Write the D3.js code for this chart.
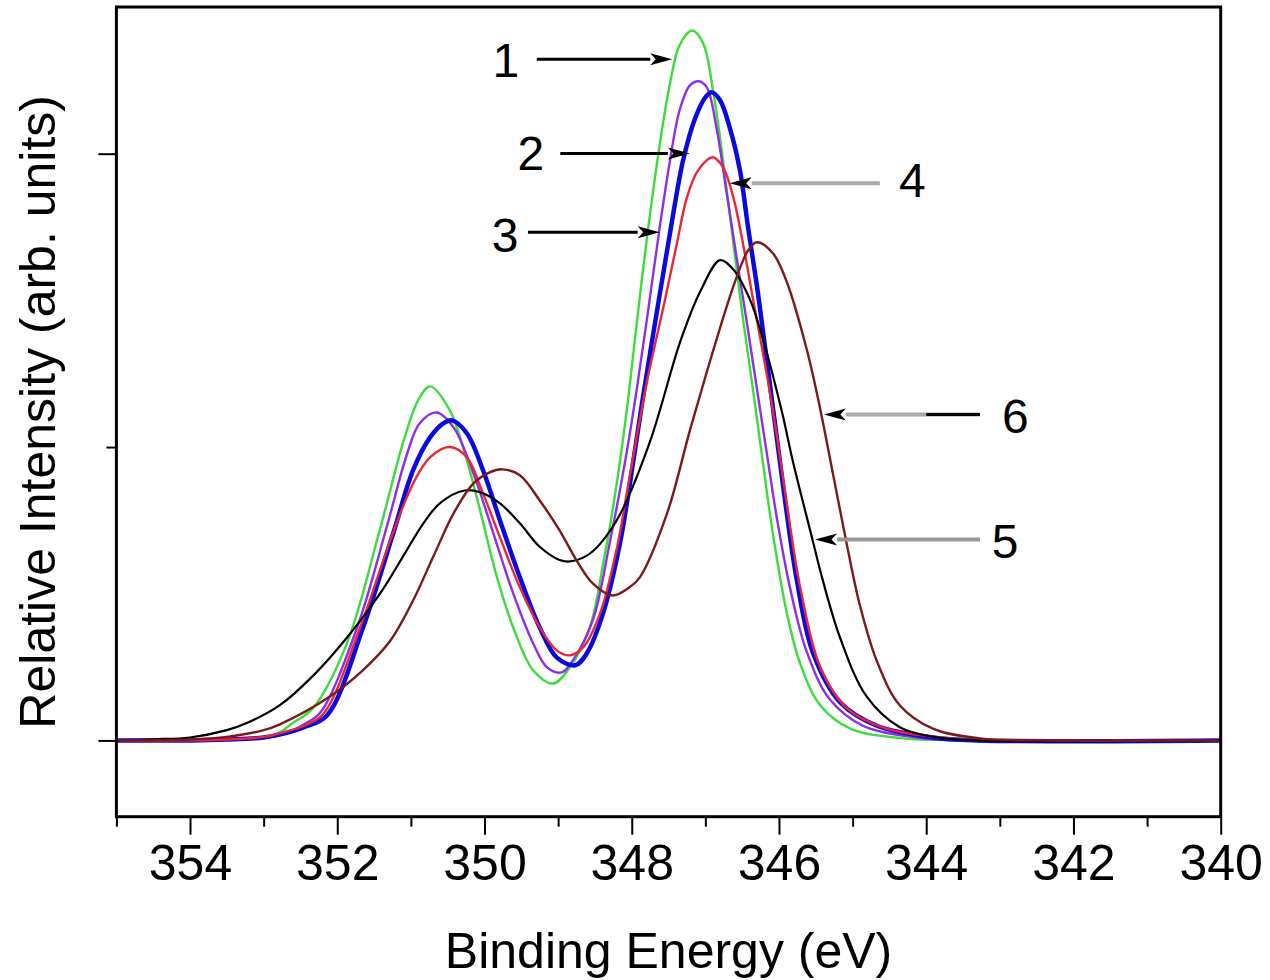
<!DOCTYPE html>
<html>
<head>
<meta charset="utf-8">
<script src="https://cdn.jsdelivr.net/npm/d3@7"></script>
<style>
  body { margin: 0; background: #fff; }
  text { font-family: "Liberation Sans", Arial, sans-serif; fill: #000; }
</style>
</head>
<body>
<svg width="1270" height="980"></svg>
<script>
// spectra: [binding energy (eV), relative intensity]
var curve1 = [[355,0],[354,0],[353.5,0.003],[353,0.008],[352.8,0.025],[352.6,0.06],[352.33,0.11],[351.87,0.33],[351.42,0.72],[351.1,1.02],[350.9,1.16],[350.74,1.207],[350.47,1.125],[350.24,0.955],[350.06,0.784],[349.83,0.556],[349.61,0.385],[349.34,0.239],[349.07,0.194],[348.84,0.249],[348.57,0.385],[348.39,0.6],[348.25,0.8],[348.07,1.12],[347.96,1.36],[347.79,1.72],[347.62,2.03],[347.48,2.24],[347.35,2.37],[347.18,2.42],[347.03,2.376],[346.89,2.206],[346.76,1.977],[346.62,1.695],[346.49,1.44],[346.35,1.19],[346.22,0.95],[346.08,0.7],[345.89,0.43],[345.71,0.26],[345.44,0.12],[345.03,0.04],[344.35,0.008],[343.5,0],[340,0]];
var curve2 = [[355,0],[354,0],[353.5,0.003],[353,0.01],[352.7,0.025],[352.45,0.045],[352.14,0.085],[351.65,0.385],[351.24,0.706],[350.97,0.921],[350.74,1.033],[350.56,1.081],[350.44,1.091],[350.24,1.047],[350.02,0.921],[349.79,0.75],[349.52,0.556],[349.25,0.385],[349.02,0.283],[348.77,0.256],[348.61,0.297],[348.39,0.433],[348.16,0.672],[347.98,0.95],[347.86,1.15],[347.62,1.52],[347.44,1.79],[347.3,1.98],[347.14,2.12],[347.0,2.192],[346.91,2.209],[346.8,2.182],[346.67,2.09],[346.53,1.943],[346.42,1.749],[346.3,1.55],[346.22,1.4],[346.08,1.13],[345.94,0.86],[345.76,0.55],[345.54,0.3],[345.17,0.13],[344.67,0.05],[343.91,0.01],[343.3,0],[340,0]];
var curve3 = [[355,0],[354,0],[353.5,0.003],[353,0.01],[352.7,0.025],[352.45,0.055],[352.23,0.095],[351.73,0.385],[351.33,0.726],[351.05,0.978],[350.88,1.081],[350.65,1.118],[350.42,1.067],[350.15,0.91],[349.88,0.706],[349.61,0.501],[349.34,0.331],[349.15,0.249],[348.95,0.232],[348.8,0.273],[348.53,0.409],[348.3,0.672],[348.07,0.98],[347.93,1.2],[347.78,1.46],[347.62,1.749],[347.48,1.977],[347.35,2.148],[347.21,2.233],[347.09,2.247],[346.98,2.226],[346.85,2.09],[346.71,1.865],[346.57,1.637],[346.44,1.43],[346.3,1.2],[346.16,0.97],[346.03,0.76],[345.85,0.52],[345.62,0.3],[345.31,0.14],[344.86,0.05],[344.13,0.01],[343.5,0],[340,0]];
var curve4 = [[355,0],[354,0],[353.5,0.003],[353,0.012],[352.7,0.03],[352.45,0.05],[352.19,0.09],[351.69,0.385],[351.28,0.682],[350.97,0.876],[350.74,0.965],[350.47,1.0],[350.24,0.965],[350.02,0.842],[349.79,0.692],[349.52,0.522],[349.25,0.385],[349.02,0.307],[348.84,0.29],[348.66,0.317],[348.43,0.433],[348.2,0.658],[348.03,0.897],[347.79,1.227],[347.55,1.5],[347.39,1.69],[347.25,1.851],[347.1,1.943],[346.9,1.988],[346.76,1.954],[346.62,1.851],[346.49,1.695],[346.35,1.5],[346.16,1.24],[346.03,1.04],[345.89,0.8],[345.71,0.52],[345.44,0.25],[345.08,0.11],[344.54,0.04],[343.68,0.007],[343,0],[340,0]];
var curve5 = [[355,0],[354.5,0.004],[354,0.01],[353.5,0.035],[353.22,0.06],[352.78,0.12],[352.33,0.22],[351.87,0.35],[351.42,0.5],[351.1,0.63],[350.83,0.74],[350.6,0.81],[350.27,0.852],[350.06,0.846],[349.79,0.808],[349.52,0.74],[349.25,0.66],[348.98,0.615],[348.84,0.61],[348.61,0.63],[348.43,0.67],[348.16,0.77],[347.75,1.02],[347.34,1.36],[347.07,1.53],[346.8,1.637],[346.62,1.605],[346.39,1.5],[346.22,1.37],[345.96,1.12],[345.81,0.95],[345.54,0.68],[345.42,0.56],[345.17,0.35],[344.81,0.15],[344.36,0.045],[343.9,0.012],[343.3,0],[340,0]];
var curve6 = [[355,0],[354,0.003],[353.5,0.012],[353,0.035],[352.78,0.055],[352.1,0.15],[351.65,0.24],[351.28,0.34],[350.97,0.477],[350.7,0.624],[350.42,0.774],[350.15,0.876],[349.93,0.914],[349.75,0.924],[349.52,0.904],[349.25,0.818],[348.98,0.716],[348.75,0.614],[348.53,0.535],[348.26,0.494],[348.03,0.522],[347.89,0.556],[347.52,0.774],[347.21,1.057],[346.94,1.29],[346.67,1.51],[346.53,1.61],[346.42,1.67],[346.3,1.698],[346.08,1.66],[345.89,1.56],[345.62,1.33],[345.44,1.13],[345.26,0.9],[345.08,0.67],[344.9,0.46],[344.67,0.27],[344.36,0.12],[343.91,0.04],[343.27,0.007],[342.5,0],[340,0]];

var xMajor = [354, 352, 350, 348, 346, 344, 342, 340];
var xMinor = [355, 353, 351, 349, 347, 345, 343, 341];
var yMajor = [0, 2];
var yMinor = [1];

var svg = d3.select("svg"),
    width = +svg.attr("width"),
    height = +svg.attr("height");

var margin = {top: 7, right: 49.3, bottom: 163.3, left: 116.4};

var x = d3.scaleLinear().domain([355, 340]).range([margin.left, width - margin.right]);
var y = d3.scaleLinear().domain([-0.26, 2.5]).range([height - margin.bottom, margin.top]);

// drawing order: green, purple, blue, red, black, maroon
var series = [
  {data: curve1, color: "#3ddc3d", w: 2.4},
  {data: curve3, color: "#8d2fe6", w: 2.4},
  {data: curve2, color: "#0a0adc", w: 4.5},
  {data: curve4, color: "#ec2636", w: 2.4},
  {data: curve5, color: "#000000", w: 2.2},
  {data: curve6, color: "#7a1a1a", w: 2.4}
];

var line = d3.line()
    .x(function(d) { return x(d[0]); })
    .y(function(d) { return y(d[1]); })
    .curve(d3.curveCatmullRom.alpha(0.5));

svg.append("g")
  .selectAll("path")
  .data(series)
  .enter().append("path")
    .attr("d", function(d) { return line(d.data); })
    .attr("fill", "none")
    .attr("stroke", function(d) { return d.color; })
    .attr("stroke-width", function(d) { return d.w; })
    .attr("stroke-linejoin", "round");

// axes
var xAxisMajor = svg.append("g")
    .attr("transform", "translate(0," + (height - margin.bottom) + ")")
    .call(d3.axisBottom(x).tickValues(xMajor).tickSize(18).tickPadding(10).tickFormat(d3.format("d")));
var xAxisMinor = svg.append("g")
    .attr("transform", "translate(0," + (height - margin.bottom) + ")")
    .call(d3.axisBottom(x).tickValues(xMinor).tickSize(10).tickFormat(""));
var yAxisMajor = svg.append("g")
    .attr("transform", "translate(" + margin.left + ",0)")
    .call(d3.axisLeft(y).tickValues(yMajor).tickSize(18).tickFormat(""));
var yAxisMinor = svg.append("g")
    .attr("transform", "translate(" + margin.left + ",0)")
    .call(d3.axisLeft(y).tickValues(yMinor).tickSize(10).tickFormat(""));

svg.selectAll(".domain").remove();
svg.selectAll(".tick line").attr("stroke", "#000").attr("stroke-width", 2);
xAxisMajor.selectAll("text")
    .style("font-size", "50px")
    .style("font-family", "'Liberation Sans', Arial, sans-serif")
    .attr("fill", "#000");

// frame
svg.append("rect")
    .attr("x", x(355))
    .attr("y", y(2.5))
    .attr("width", x(340) - x(355))
    .attr("height", y(-0.26) - y(2.5))
    .attr("fill", "none")
    .attr("stroke", "#000")
    .attr("stroke-width", 3);

// axis titles
svg.append("text")
    .attr("x", (x(355) + x(340)) / 2)
    .attr("y", 968)
    .attr("text-anchor", "middle")
    .style("font-size", "50px")
    .text("Binding Energy (eV)");

svg.append("text")
    .attr("transform", "translate(55," + ((y(2.5) + y(-0.26)) / 2) + ") rotate(-90)")
    .attr("text-anchor", "middle")
    .style("font-size", "50px")
    .text("Relative Intensity (arb. units)");

// numbered arrows, in data units; "dark" = part of the shaft drawn black
var notes = [
  {label: "1", tx: 349.71, ty: 2.26,  from: 349.29, to: 347.45, ay: 2.322, color: "#000"},
  {label: "2", tx: 349.37, ty: 1.943, from: 348.97, to: 347.21, ay: 2.001, color: "#000"},
  {label: "3", tx: 349.72, ty: 1.664, from: 349.41, to: 347.62, ay: 1.732, color: "#000"},
  {label: "4", tx: 344.19, ty: 1.851, from: 344.63, to: 346.67, ay: 1.899, color: "#aaa"},
  {label: "6", tx: 342.79, ty: 1.047, from: 343.27, to: 345.39, ay: 1.111, color: "#aaa", dark: 344.0},
  {label: "5", tx: 342.93, ty: 0.621, from: 343.27, to: 345.51, ay: 0.685, color: "#999"}
];

var ann = svg.append("g").attr("class", "notes");

notes.forEach(function(n) {
  var x0 = x(n.from), x1 = x(n.to), yy = y(n.ay);
  var dir = x1 > x0 ? 1 : -1;
  var headLen = 22;
  ann.append("line")
      .attr("x1", x0).attr("y1", yy)
      .attr("x2", x1 - dir * headLen).attr("y2", yy)
      .attr("stroke", n.color)
      .attr("stroke-width", n.color === "#000" ? 3 : 4);
  if (n.dark) {
    ann.append("line")
        .attr("x1", x0).attr("y1", yy)
        .attr("x2", x(n.dark)).attr("y2", yy)
        .attr("stroke", "#000")
        .attr("stroke-width", 3);
  }
  ann.append("path")
      .attr("d", "M" + x1 + "," + yy +
                 "L" + (x1 - dir * headLen) + "," + (yy - 6) +
                 "L" + (x1 - dir * headLen * 0.75) + "," + yy +
                 "L" + (x1 - dir * headLen) + "," + (yy + 6) + "Z")
      .attr("fill", "#000");
  ann.append("text")
      .attr("x", x(n.tx))
      .attr("y", y(n.ty))
      .attr("text-anchor", "middle")
      .style("font-size", "48px")
      .attr("fill", "#111")
      .text(n.label);
});
</script>
</body>
</html>
